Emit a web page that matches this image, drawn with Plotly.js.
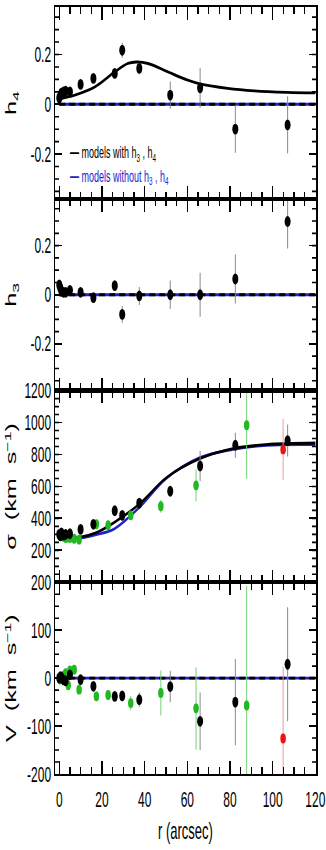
<!DOCTYPE html>
<html>
<head>
<meta charset="utf-8">
<script src="https://cdn.plot.ly/plotly-3.0.1.min.js"></script>
<style>
  html, body { margin: 0; padding: 0; background: #fff; }
  #wrap { width: 326px; height: 850px; position: relative; overflow: hidden; }
  /* the original figure is stretched vertically */
  #chart { position: absolute; left: 0; top: 0; width: 326px; height: 472px; transform: scaleY(1.8); transform-origin: 0 0; }
</style>
</head>
<body>
<div id="wrap"><div id="chart"></div></div>
<script>
// radii (arcsec) of the points with h3, h4 measured (black)
const rBlack = [0, 0.5, 1, 2, 3, 5, 10, 16, 26, 29.5, 37.5, 52, 66, 82.5, 107];
const h4Black = [0.025, 0.035, 0.045, 0.05, 0.053, 0.05, 0.08, 0.104, 0.124, 0.217, 0.144, 0.037, 0.066, -0.10, -0.083];
const h4BlackErr = [0.01, 0.01, 0.01, 0.01, 0.01, 0.01, 0.012, 0.015, 0.02, 0.03, 0.02, 0.055, 0.08, 0.095, 0.115];
const h3Black = [0.04, 0.028, 0.015, 0.01, 0.01, 0.018, 0.01, -0.012, 0.037, -0.08, -0.005, 0, 0, 0.064, 0.298];
const h3BlackErr = [0.015, 0.01, 0.01, 0.01, 0.01, 0.01, 0.012, 0.015, 0.02, 0.034, 0.037, 0.058, 0.09, 0.1, 0.11];
const sigBlack = [300, 290, 310, 295, 300, 304, 331, 363, 448, 419, 496, 570, 728, 858, 887];
const sigBlackErr = [12, 12, 12, 12, 12, 12, 15, 18, 20, 20, 20, 25, 94, 78, 100];
const vBlack = [0, 3, 2, -3.5, -5.6, 7, -3, -17, -38, -37, -45, -17.5, -90, -50, 29];
const vBlackErr = [8, 8, 8, 8, 8, 8, 8, 10, 10, 10, 15, 33, 60, 90, 119];

// green points (sigma and V only)
const rGreen = [0.5, 2, 3, 4.2, 5, 7, 9.3, 17.4, 22.9, 33.5, 47.6, 64.1, 87.8];
const sigGreen = [290, 285, 277, 280, 277, 273, 267, 363, 357, 419, 476, 607, 983];
const sigGreenErr = [10, 10, 10, 10, 10, 10, 10, 15, 15, 15, 40, 100, 335];
const vGreen = [-3, 5, 10.5, -15, 16, 17.5, -24, -38, -35, -52, -31, -63, -57];
const vGreenErr = [8, 8, 8, 8, 8, 8, 8, 10, 10, 15, 47, 86, 250];

// red point
const rRed = [104.9];
const sigRed = [832];
const sigRedErr = [190];
const vRed = [-126];
const vRedErr = [150];

// model curves
const h4ModR = [0, 7.3, 16.7, 26, 32.2, 36.1, 41.6, 50.9, 60.2, 66.5, 78.9, 91.4, 106.9, 120];
const h4ModWith = [0.022, 0.037, 0.07, 0.13, 0.164, 0.17, 0.164, 0.13, 0.097, 0.081, 0.064, 0.054, 0.048, 0.046];
const sigModR = [0, 9.7, 17.4, 26, 37.7, 50, 65.8, 81.4, 97, 120];
const sigModWith = [280, 283, 311, 377, 492, 653, 774, 837, 862, 872];
const sigModWithout = [276, 277, 298, 336, 471, 649, 780, 832, 858, 862];
const zeroR = [0, 120];
const zeroVal = [0, 0];

// tick labels
const hTickVals = [-0.2, 0, 0.2];
const hTickText = ['-0.2', '0', '0.2'];
const sigTickVals = [200, 400, 600, 800, 1000, 1200];
const vTickVals = [-200, -100, 0, 100, 200];
const vTickText = ['-200', '-100', '0', '100', '200'];
const xTickVals = [0, 20, 40, 60, 80, 100, 120];

const FONT = 'Liberation Sans Narrow, Liberation Sans, Arial, sans-serif';
const BLUE = '#2222cc';
const GREEN = '#22b822';
const RED = '#ee1111';

function points(x, y, err, color, errColor, size, xa, ya) {
    return {
        x: x, y: y, xaxis: xa, yaxis: ya,
        type: 'scatter', mode: 'markers',
        marker: { color: color, size: size },
        error_y: { type: 'data', array: err, visible: true, color: errColor, thickness: 1, width: 0 },
        showlegend: false, hoverinfo: 'skip'
    };
}

function line(x, y, color, width, dash, xa, ya, shape) {
    return {
        x: x, y: y, xaxis: xa, yaxis: ya,
        type: 'scatter', mode: 'lines',
        line: { color: color, width: width, dash: dash || 'solid', shape: shape || 'linear', smoothing: 1 },
        showlegend: false, hoverinfo: 'skip'
    };
}

const traces = [
    // V panel
    line(zeroR, zeroVal, BLUE, 1.6, 'solid', 'x', 'y'),
    line(zeroR, zeroVal, '#000', 1.6, '6px,4px', 'x', 'y'),
    points(rGreen, vGreen, vGreenErr, GREEN, '#77d077', 5.5, 'x', 'y'),
    points(rBlack, vBlack, vBlackErr, '#000', '#8a8a8a', 6, 'x', 'y'),
    points(rRed, vRed, vRedErr, RED, '#f39a9a', 5.5, 'x', 'y'),
    // sigma panel
    line(sigModR, sigModWithout, BLUE, 1.6, 'solid', 'x2', 'y2', 'spline'),
    line(sigModR, sigModWith, '#000', 1.6, 'solid', 'x2', 'y2', 'spline'),
    points(rGreen, sigGreen, sigGreenErr, GREEN, '#77d077', 5.5, 'x2', 'y2'),
    points(rBlack, sigBlack, sigBlackErr, '#000', '#8a8a8a', 6, 'x2', 'y2'),
    points(rRed, sigRed, sigRedErr, RED, '#f39a9a', 5.5, 'x2', 'y2'),
    // h3 panel
    line(zeroR, zeroVal, BLUE, 1.6, 'solid', 'x3', 'y3'),
    line(zeroR, zeroVal, '#000', 1.6, '6px,4px', 'x3', 'y3'),
    points(rBlack, h3Black, h3BlackErr, '#000', '#8a8a8a', 6, 'x3', 'y3'),
    // h4 panel
    line(zeroR, zeroVal, BLUE, 1.6, 'solid', 'x4', 'y4'),
    line(zeroR, zeroVal, '#000', 1.6, '6px,4px', 'x4', 'y4'),
    line(h4ModR, h4ModWith, '#000', 1.6, 'solid', 'x4', 'y4', 'spline'),
    points(rBlack, h4Black, h4BlackErr, '#000', '#8a8a8a', 6, 'x4', 'y4')
];

function xAxis(anchor, bottom) {
    const ax = {
        anchor: anchor, domain: [0, 1], range: [-2, 120.3],
        tickmode: 'array', tickvals: xTickVals,
        ticks: 'inside', ticklen: 7, tickwidth: 1.3, tickcolor: '#000',
        minor: { dtick: 5, tick0: 0, ticks: 'inside', ticklen: 4, tickwidth: 1.2, tickcolor: '#000', showgrid: false },
        mirror: 'allticks', showline: true, linewidth: 1.2, linecolor: '#000',
        showgrid: false, zeroline: false,
        showticklabels: bottom, ticklabelstandoff: 3,
        tickfont: { family: FONT, size: 12, color: '#000' }
    };
    if (!bottom) ax.matches = 'x';
    return ax;
}

function yAxis(anchor, domain, range, vals, text, minorStep, title) {
    return {
        anchor: anchor, domain: domain, range: range,
        tickmode: 'array', tickvals: vals, ticktext: text,
        ticks: 'inside', ticklen: 7, tickwidth: 1, tickcolor: '#000',
        minor: { dtick: minorStep, tick0: 0, ticks: 'inside', ticklen: 4, tickwidth: 0.9, tickcolor: '#000', showgrid: false },
        mirror: 'allticks', showline: true, linewidth: 1.5, linecolor: '#000',
        showgrid: false, zeroline: false,
        tickfont: { family: FONT, size: 12, color: '#000' },
        title: { text: title, font: { family: FONT, size: 14, color: '#000' } }
    };
}

const layout = {
    width: 326, height: 472,
    margin: { l: 55, r: 10, t: 4, b: 42 },
    paper_bgcolor: '#fff', plot_bgcolor: '#fff',
    showlegend: false,
    xaxis: xAxis('y', true),
    xaxis2: xAxis('y2', false),
    xaxis3: xAxis('y3', false),
    xaxis4: xAxis('y4', false),
    yaxis: yAxis('x', [0, 0.25], [-200, 200], vTickVals, vTickText, 25, 'V  (km  s<sup>−1</sup>)'),
    yaxis2: yAxis('x2', [0.25, 0.5], [0, 1200], sigTickVals, sigTickVals.map(String), 50, 'σ  (km  s<sup>−1</sup>)'),
    yaxis3: yAxis('x3', [0.5, 0.75], [-0.39, 0.39], hTickVals, hTickText, 0.05, 'h<sub>3</sub>'),
    yaxis4: yAxis('x4', [0.75, 1], [-0.38, 0.39], hTickVals, hTickText, 0.05, 'h<sub>4</sub>'),
    annotations: [
        {
            xref: 'x4', yref: 'y4', x: 4, y: -0.2, xanchor: 'left', yanchor: 'middle', showarrow: false,
            text: '<b>—</b> models with h<sub>3</sub> , h<sub>4</sub>',
            font: { family: FONT, size: 9, color: '#000' }
        },
        {
            xref: 'x4', yref: 'y4', x: 4, y: -0.29, xanchor: 'left', yanchor: 'middle', showarrow: false,
            text: '<b>—</b> models without h<sub>3</sub> , h<sub>4</sub>',
            font: { family: FONT, size: 9, color: BLUE }
        },
        // x axis title, placed lower than plotly's default spot
        {
            xref: 'paper', yref: 'paper', x: 0.5, y: -0.075, xanchor: 'center', yanchor: 'middle', showarrow: false,
            text: 'r (arcsec)',
            font: { family: FONT, size: 13, color: '#000' }
        }
    ]
};

Plotly.newPlot('chart', traces, layout, { staticPlot: true, displayModeBar: false });
</script>
</body>
</html>
